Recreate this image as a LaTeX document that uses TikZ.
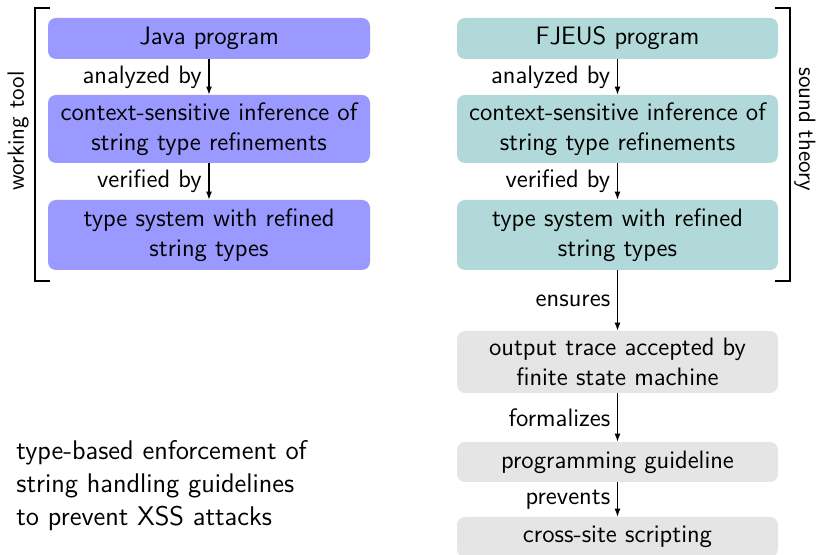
\documentclass[tikz,border=0pt]{standalone}
\usetikzlibrary{arrows.meta}
\begin{document}
\begin{tikzpicture}[x=0.5pt,y=-0.5pt,
  font=\sffamily\fontsize{12.6}{15.2}\selectfont,
  box/.style={rounded corners=4pt, inner sep=0pt, align=center},
  javabox/.style={box, fill=blue!40},
  fjbox/.style={box, fill=teal!30},
  outbox/.style={box, fill=gray!20},
  flow/.style={-{Latex[length=4pt,width=3pt]}, line width=0.6pt},
  bracket/.style={line width=1pt},
  sidelabel/.style={font=\sffamily\fontsize{11.8}{14}\selectfont}]
\useasboundingbox (0,0) rectangle (816,555);
\clip (0,0) rectangle (816,555);

% working tool column
\node[javabox, minimum width=161pt, minimum height=20.5pt] (j1) at (209,38.5) {Java program};
\node[javabox, minimum width=161pt, minimum height=34pt] (j2) at (209,129) {context-sensitive inference of\\string type refinements};
\node[javabox, minimum width=161pt, minimum height=35pt] (j3) at (209,235) {type system with refined\\string types};
\draw[flow] (j1.south) -- node[left] {analyzed by} (j2.north);
\draw[flow] (j2.south) -- node[left] {verified by} (j3.north);

% sound theory column
\node[fjbox, minimum width=160.5pt, minimum height=20.5pt] (f1) at (617.5,38.5) {FJEUS program};
\node[fjbox, minimum width=160.5pt, minimum height=34pt] (f2) at (617.5,129) {context-sensitive inference of\\string type refinements};
\node[fjbox, minimum width=160.5pt, minimum height=35pt] (f3) at (617.5,235) {type system with refined\\string types};
\draw[flow] (f1.south) -- node[left] {analyzed by} (f2.north);
\draw[flow] (f2.south) -- node[left] {verified by} (f3.north);

% guarantees
\node[outbox, minimum width=160.5pt, minimum height=31pt] (g1) at (617.5,362) {output trace accepted by\\finite state machine};
\node[outbox, minimum width=160.5pt, minimum height=20pt] (g2) at (617.5,462) {programming guideline};
\node[outbox, minimum width=160.5pt, minimum height=20pt] (g3) at (617.5,537) {cross-site scripting};
\draw[flow] (f3.south) -- node[left] {ensures} (g1.north);
\draw[flow] (g1.south) -- node[left] {formalizes} (g2.north);
\draw[flow] (g2.south) -- node[left] {prevents} (g3.north);

% brackets
\coordinate (lt) at (50,8);
\coordinate (lb) at (50,281);
\draw[bracket] (lt) -- (35,8) -- (35,281) -- (lb);
\node[sidelabel, rotate=90] (wt) at (18,131) {working tool};
\coordinate (rt) at (775,8);
\coordinate (rb) at (775,281);
\draw[bracket] (rt) -- (790,8) -- (790,281) -- (rb);
\node[sidelabel, rotate=-90] (st) at (805,129) {sound theory};

% summary
\node[anchor=north west, inner sep=0pt, align=left,
      font=\sffamily\fontsize{13.5}{16.5}\selectfont] (sum) at (16,440)
  {type-based enforcement of\\string handling guidelines\\to prevent XSS attacks};
\end{tikzpicture}
\end{document}
